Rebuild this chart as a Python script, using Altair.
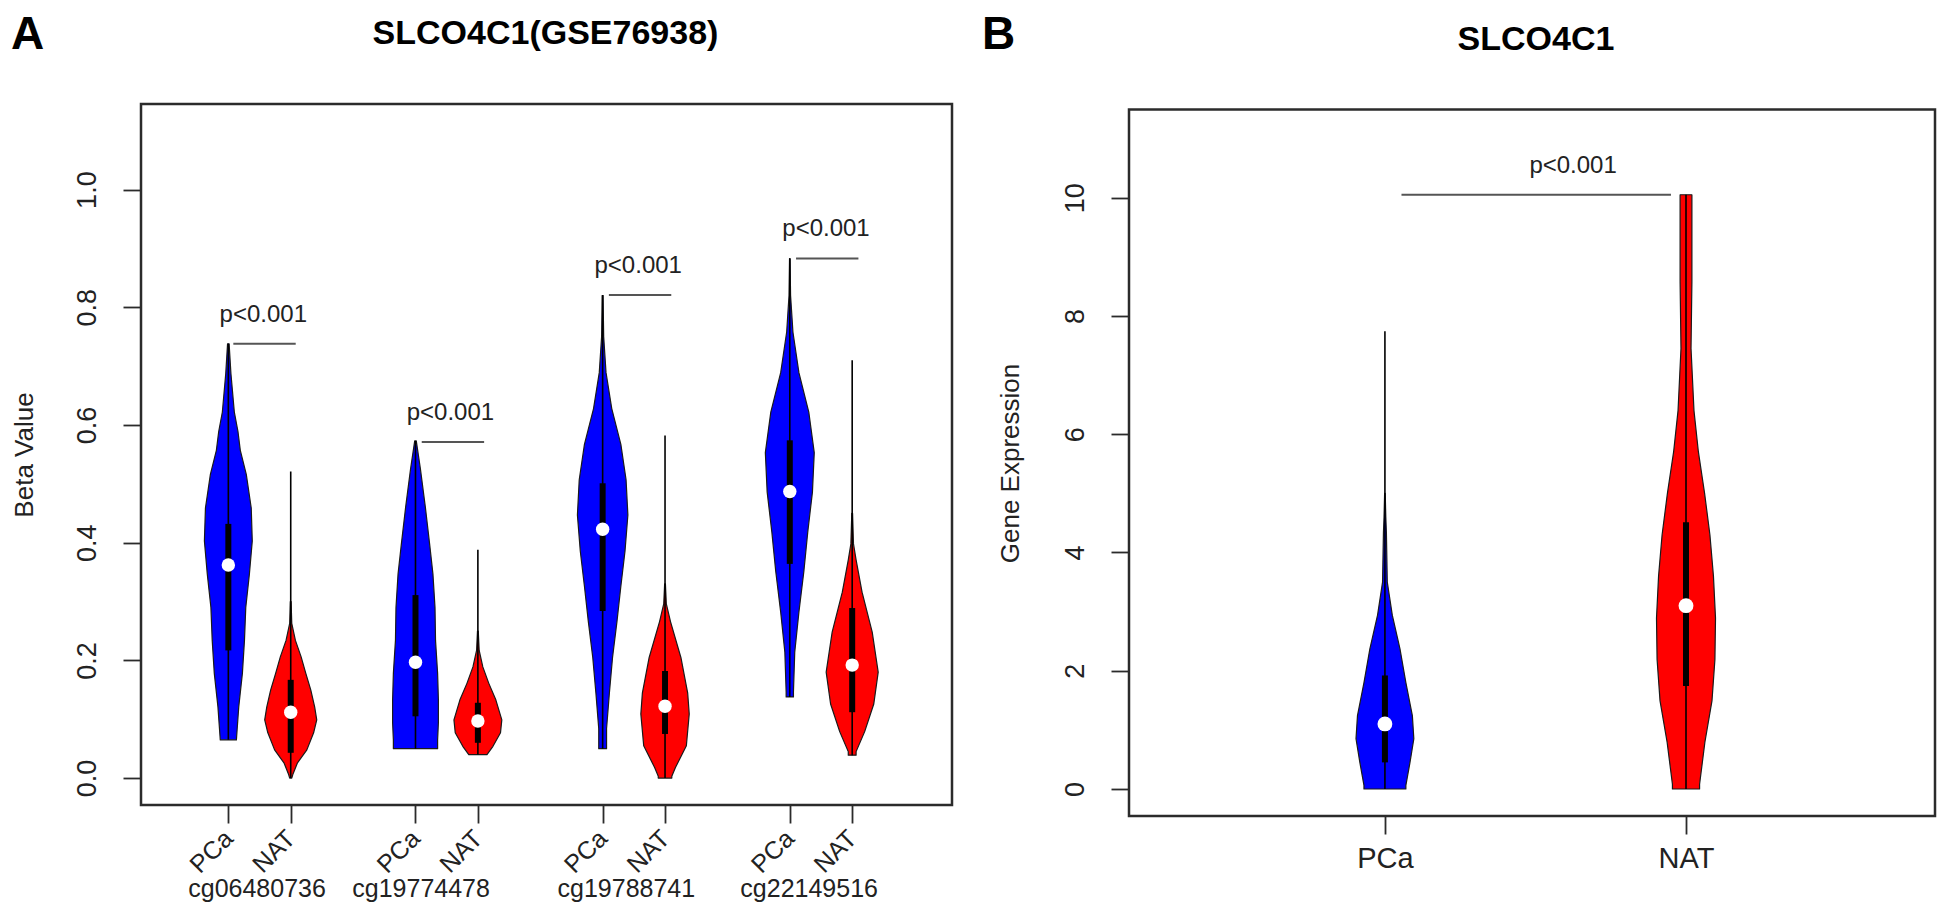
import altair as alt
import pandas as pd

FONT = "Liberation Sans"
BLUE = "#0000FF"
RED = "#FF0000"
INK = "#222222"

# ---------------- Panel A : SLCO4C1 (GSE76938) ----------------
A_LETTER = "A"
A_TITLE = "SLCO4C1(GSE76938)"
A_YLABEL = "Beta Value"
A_PROBES = ["cg06480736", "cg19774478", "cg19788741", "cg22149516"]
A_PROBE_X = [1.86, 4.49, 7.78, 10.71]
A_GROUPS = ["PCa", "NAT", "PCa", "NAT", "PCa", "NAT", "PCa", "NAT"]
A_X = [1.4, 2.4, 4.4, 5.4, 7.4, 8.4, 10.4, 11.4]
A_YTICKS = [0.0, 0.2, 0.4, 0.6, 0.8, 1.0]

# violin outlines: beta value levels and relative half width (1 = widest)
A_VIOLIN_Y = [
    [0.065, 0.071, 0.121, 0.178, 0.234, 0.290, 0.347, 0.403, 0.459, 0.516, 0.557, 0.589, 0.622, 0.687, 0.738],
    [0.0, 0.006, 0.026, 0.048, 0.077, 0.099, 0.121, 0.150, 0.178, 0.206, 0.234, 0.263, 0.30],
    [0.05, 0.065, 0.094, 0.133, 0.178, 0.234, 0.290, 0.347, 0.395, 0.460, 0.525, 0.573],
    [0.040, 0.054, 0.077, 0.099, 0.133, 0.161, 0.189, 0.217, 0.25],
    [0.05, 0.084, 0.145, 0.205, 0.266, 0.326, 0.386, 0.447, 0.507, 0.567, 0.628, 0.689, 0.75, 0.82],
    [0.0, 0.003, 0.018, 0.055, 0.109, 0.145, 0.205, 0.266, 0.296, 0.33],
    [0.138, 0.146, 0.214, 0.282, 0.351, 0.418, 0.486, 0.553, 0.622, 0.689, 0.758, 0.82, 0.883],
    [0.039, 0.045, 0.079, 0.126, 0.180, 0.248, 0.316, 0.371, 0.398, 0.45],
]
A_VIOLIN_W = [
    [0.31, 0.32, 0.40, 0.54, 0.62, 0.67, 0.81, 0.92, 0.88, 0.69, 0.46, 0.37, 0.23, 0.10, 0.03],
    [0.04, 0.08, 0.26, 0.62, 0.88, 1.0, 0.92, 0.77, 0.58, 0.40, 0.18, 0.04, 0.015],
    [0.85, 0.85, 0.88, 0.88, 0.85, 0.77, 0.75, 0.67, 0.55, 0.38, 0.19, 0.03],
    [0.35, 0.58, 0.87, 0.92, 0.69, 0.42, 0.19, 0.05, 0.015],
    [0.15, 0.15, 0.26, 0.38, 0.55, 0.70, 0.86, 0.97, 0.90, 0.70, 0.35, 0.13, 0.04, 0.015],
    [0.26, 0.26, 0.40, 0.82, 0.93, 0.87, 0.61, 0.21, 0.05, 0.015],
    [0.14, 0.14, 0.19, 0.35, 0.54, 0.69, 0.87, 0.94, 0.73, 0.35, 0.12, 0.03, 0.01],
    [0.15, 0.15, 0.48, 0.83, 1.0, 0.77, 0.38, 0.15, 0.05, 0.015],
]
A_MIN = [0.065, 0.0, 0.05, 0.040, 0.05, 0.0, 0.138, 0.039]
A_Q1 = [0.217, 0.043, 0.105, 0.060, 0.284, 0.075, 0.364, 0.112]
A_MED = [0.362, 0.112, 0.197, 0.097, 0.423, 0.122, 0.487, 0.192]
A_Q3 = [0.432, 0.167, 0.311, 0.128, 0.501, 0.182, 0.574, 0.289]
A_MAX = [0.738, 0.521, 0.573, 0.388, 0.821, 0.582, 0.883, 0.710]
A_SIG_X1 = [1.48, 4.5, 7.5, 10.5]
A_SIG_X2 = [2.48, 5.5, 8.5, 11.5]
A_SIG_Y = [0.738, 0.571, 0.821, 0.883]
A_SIG_TX = [1.96, 4.96, 7.97, 10.98]
A_SIG_LABEL = ["p<0.001", "p<0.001", "p<0.001", "p<0.001"]

# ---------------- Panel B : SLCO4C1 ----------------
B_LETTER = "B"
B_TITLE = "SLCO4C1"
B_YLABEL = "Gene Expression"
B_GROUPS = ["PCa", "NAT"]
B_X = [1, 2]
B_YTICKS = [0, 2, 4, 6, 8, 10]
B_VIOLIN_Y = [
    [0.0, 0.06, 0.45, 0.85, 1.24, 1.80, 2.37, 2.94, 3.50, 4.34, 4.6, 5.0],
    [0.0, 0.08, 0.79, 1.49, 2.19, 2.89, 3.60, 4.30, 5.00, 5.70, 6.40, 7.45, 8.58, 10.05],
]
B_VIOLIN_W = [
    [0.71, 0.71, 0.85, 0.98, 0.93, 0.71, 0.51, 0.25, 0.08, 0.05, 0.03, 0.01],
    [0.46, 0.46, 0.64, 0.88, 0.98, 1.0, 0.93, 0.81, 0.63, 0.42, 0.27, 0.17, 0.20, 0.20],
]
B_MIN = [0.0, 0.0]
B_Q1 = [0.45, 1.74]
B_MED = [1.10, 3.10]
B_Q3 = [1.92, 4.51]
B_MAX = [7.74, 10.05]
B_SIG_X1 = [1.055]
B_SIG_X2 = [1.95]
B_SIG_Y = [10.05]
B_SIG_TX = [1.625]
B_SIG_LABEL = ["p<0.001"]

# ---------------- layout / style ----------------
A_W, A_H = 811, 701
B_W, B_H = 806, 712
B_FRAME_TOP = 5.5          # panel B box sits a little lower than panel A box
A_XDOM = [0, 13]
A_YDOM = [-0.0457, 1.1455]
B_XDOM = [0.15, 2.827]
B_YDOM = [-0.457, 11.585]
A_HALF = 0.417   # max violin half width (x units)
B_HALF = 0.098


def violin_frame(xs, vy, vw, colors, half):
    rows = []
    for i in range(len(xs)):
        for y, w in zip(vy[i], vw[i]):
            rows.append({"vid": i, "val": y, "lo": xs[i] - w * half,
                         "hi": xs[i] + w * half, "fill": colors[i]})
    return pd.DataFrame(rows)


def group_labels(xs, groups):
    arr_x = "[" + ",".join(str(x) for x in xs) + "]"
    arr_g = "[" + ",".join("'" + g + "'" for g in groups) + "]"
    return arr_g + "[indexof(" + arr_x + ", datum.value)]"


def one(text):
    return pd.DataFrame({"t": [text]})


def panel(xs, groups, colors, vy, vw, half, vmin, vq1, vmed, vq3, vmax,
          sx1, sx2, sy, stx, slab, xdom, ydom, yticks, yfmt, ylabel,
          title, letter, W, H, xaxis, letter_x, letter_y, title_x, title_y,
          ytitle_x, ytitle_y, med_size, frame_top, extra=None):
    xsc = alt.Scale(domain=xdom, nice=False, zero=False)
    ysc = alt.Scale(domain=ydom, nice=False, zero=False)
    yaxis = alt.Axis(values=yticks, format=yfmt, labelAngle=270, labelAlign="center",
                     labelBaseline="middle", labelPadding=36, labelFontSize=27,
                     labelOverlap=False, labelFlush=False, title=ylabel,
                     titleFontSize=26, titleFontWeight="normal", titleX=ytitle_x,
                     titleY=ytitle_y, titleAngle=270, titleAlign="center",
                     titleBaseline="middle", grid=False)

    def X(f):
        return alt.X(f, type="quantitative", scale=xsc, axis=xaxis)

    def Y(f):
        return alt.Y(f, type="quantitative", scale=ysc, axis=yaxis)

    vdf = violin_frame(xs, vy, vw, colors, half)
    sdf = pd.DataFrame({"pos": xs, "grp": groups, "mn": vmin, "q1": vq1,
                        "med": vmed, "q3": vq3, "mx": vmax})
    gdf = pd.DataFrame({"x1": sx1, "x2": sx2, "h": sy, "tx": stx, "lab": slab})

    frame = alt.Chart(one("")).mark_rect(fill="white", fillOpacity=0, stroke="#2b2b2b",
                                         strokeWidth=2.5).encode(
        x=alt.value(0), x2=alt.value(W), y=alt.value(frame_top), y2=alt.value(H))
    violins = alt.Chart(vdf).mark_area(orient="horizontal", stroke="#1a1a1a",
                                       strokeWidth=1.2, strokeJoin="round", opacity=1).encode(
        y=Y("val"), x=X("lo"), x2="hi", fill=alt.Fill("fill:N", scale=None),
        detail="vid:N")
    whisk = alt.Chart(sdf).mark_rule(color="black", strokeWidth=1.6).encode(
        x=X("pos"), y=Y("mn"), y2="mx")
    box = alt.Chart(sdf).mark_rule(color="black", strokeWidth=6, strokeCap="butt").encode(
        x=X("pos"), y=Y("q1"), y2="q3")
    med = alt.Chart(sdf).mark_circle(color="white", size=med_size, opacity=1).encode(
        x=X("pos"), y=Y("med"))
    sig = alt.Chart(gdf).mark_rule(color="#555555", strokeWidth=2).encode(
        x=X("x1"), x2="x2", y=Y("h"))
    sigt = alt.Chart(gdf).mark_text(font=FONT, fontSize=24, color=INK,
                                    baseline="alphabetic", dy=-22).encode(
        x=X("tx"), y=Y("h"), text="lab:N")
    ttl = alt.Chart(one(title)).mark_text(
        font=FONT, fontSize=34, fontWeight="bold", color="black",
        align="center", baseline="alphabetic").encode(
        text="t:N", x=alt.value(title_x), y=alt.value(title_y))
    let = alt.Chart(one(letter)).mark_text(
        font=FONT, fontSize=46, fontWeight="bold", color="black",
        align="left", baseline="alphabetic").encode(
        text="t:N", x=alt.value(letter_x), y=alt.value(letter_y))
    layers = [frame, violins, whisk, box, med, sig, sigt, ttl, let]
    if extra is not None:
        layers.append(extra(X))
    return alt.layer(*layers).properties(width=W, height=H)


a_xaxis = alt.Axis(values=A_X, labelExpr=group_labels(A_X, A_GROUPS), labelAngle=315,
                   labelAlign="right", labelBaseline="middle", labelPadding=11,
                   labelFontSize=25, labelOverlap=False, labelFlush=False, title=None,
                   grid=False)
b_xaxis = alt.Axis(values=B_X, labelExpr=group_labels(B_X, B_GROUPS), labelAngle=0,
                   labelAlign="center", labelBaseline="top", labelPadding=10,
                   labelFontSize=29, labelOverlap=False, labelFlush=False, title=None,
                   grid=False)


def probe_layer(X):
    return alt.Chart(pd.DataFrame({"px": A_PROBE_X, "probe": A_PROBES})).mark_text(
        font=FONT, fontSize=25, color=INK, align="center", baseline="middle").encode(
        x=X("px"), y=alt.value(A_H + 84), text="probe:N")


chart_a = panel(A_X, A_GROUPS, [BLUE, RED] * 4, A_VIOLIN_Y, A_VIOLIN_W, A_HALF,
                A_MIN, A_Q1, A_MED, A_Q3, A_MAX, A_SIG_X1, A_SIG_X2, A_SIG_Y,
                A_SIG_TX, A_SIG_LABEL, A_XDOM, A_YDOM, A_YTICKS, ".1f", A_YLABEL,
                A_TITLE, A_LETTER, A_W, A_H, a_xaxis, -130, -55, A_W / 2 - 1, -60,
                -117, A_H / 2, 180, 0, extra=probe_layer)
chart_b = panel(B_X, B_GROUPS, [BLUE, RED], B_VIOLIN_Y, B_VIOLIN_W, B_HALF,
                B_MIN, B_Q1, B_MED, B_Q3, B_MAX, B_SIG_X1, B_SIG_X2, B_SIG_Y,
                B_SIG_TX, B_SIG_LABEL, B_XDOM, B_YDOM, B_YTICKS, "d", B_YLABEL,
                B_TITLE, B_LETTER, B_W, B_H, b_xaxis, -147, -55, 407, -54,
                -119, 359, 220, B_FRAME_TOP)

chart = alt.hconcat(chart_a, chart_b, spacing=28).properties(
    padding={"left": 3, "top": 4, "right": 0, "bottom": 0}
).configure(
    font=FONT
).configure_view(
    stroke="transparent", strokeWidth=0
).configure_axis(
    domain=False, grid=False, tickColor="#2b2b2b", tickWidth=1.8, tickSize=18,
    labelFont=FONT, titleFont=FONT, labelColor=INK, titleColor=INK
)

chart.save("out.html", embed_options={"renderer": "svg", "actions": False})
